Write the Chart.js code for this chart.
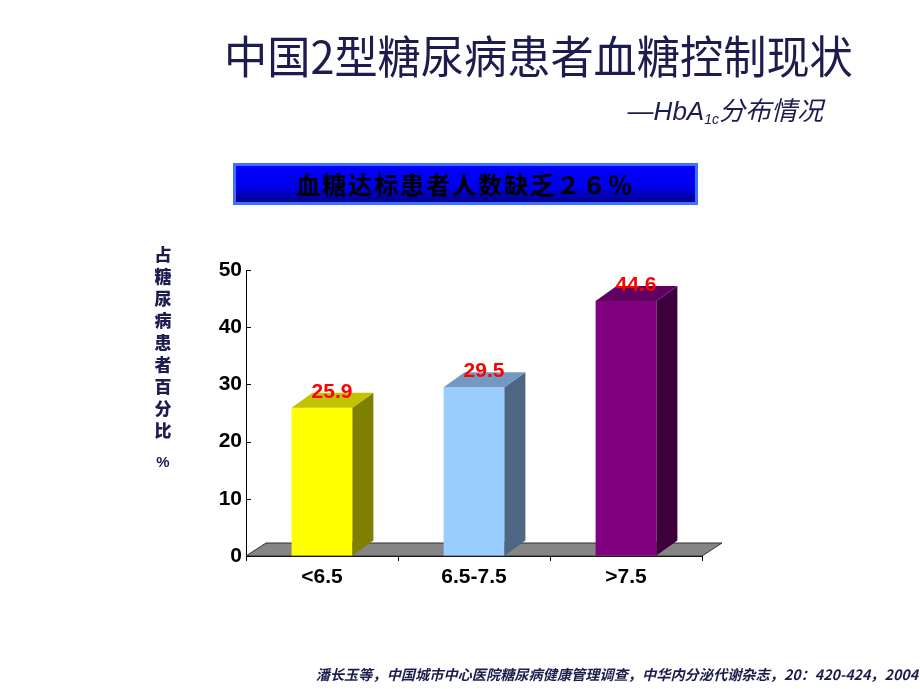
<!DOCTYPE html>
<html>
<head>
<meta charset="utf-8">
<script src="https://cdn.jsdelivr.net/npm/chart.js@4.4.0/dist/chart.umd.min.js"></script>
<style>
  body { margin:0; background:#fff; width:920px; height:689px; overflow:hidden; position:relative; }
  #c { position:absolute; left:0; top:0; }
  .t { position:absolute; white-space:nowrap; }
  #title { left:224px; top:22px; font:45px "Noto Sans CJK SC", sans-serif; color:#1c1c4e; transform:scaleX(0.96); transform-origin:left top; }
  #sub { right:97px; top:90px; font:italic 26px "Liberation Sans", "Noto Sans CJK SC", sans-serif; color:#1c1c4e; }
  #sub sub { font-size:14px; vertical-align:-4px; }
  #box { position:absolute; left:233px; top:163px; width:459px; height:36px; border:3px solid #3f6fff;
         background:linear-gradient(#0000ff, #0000ee 55%, #00008a); text-align:center;
         font:bold 24px "Noto Sans CJK SC", sans-serif; line-height:36px; color:#000; letter-spacing:2px; }
  #ytitle { left:151px; top:243px; width:24px; text-align:center; font:900 17px "Noto Sans CJK SC", sans-serif; line-height:22px; color:#1c1c4e; }
  #ytitle .pct { display:block; margin-top:12px; font:bold 15px "Liberation Sans", sans-serif; }
  #foot { right:2px; top:664px; font:italic bold 14.2px "Noto Sans CJK SC", sans-serif; color:#1c1c4e; }
</style>
</head>
<body>
<canvas id="c" width="920" height="689"></canvas>
<div class="t" id="title">中国2型糖尿病患者血糖控制现状</div>
<div class="t" id="sub">—HbA<sub>1c</sub>分布情况</div>
<div id="box">血糖达标患者人数缺乏２６％</div>
<div class="t" id="ytitle">占<br>糖<br>尿<br>病<br>患<br>者<br>百<br>分<br>比<span class="pct">%</span></div>
<div class="t" id="foot">潘长玉等，中国城市中心医院糖尿病健康管理调查，中华内分泌代谢杂志，20：420-424，2004</div>
<script>
const categories = ['<6.5', '6.5-7.5', '>7.5'];
const percents = [25.9, 29.5, 44.6];
const yTicks = [0, 10, 20, 30, 40, 50];

const frontColors = ['#ffff00', '#99ccff', '#800080'];
const sideColors = ['#808000', '#4d6683', '#3d003d'];
const topColors = ['#c2c200', '#7399c2', '#600060'];

// depth of the fake 3d
const DX = 21, DY = -15;

const floorPlugin = {
  id: 'floor',
  beforeDatasetsDraw(chart) {
    const ctx = chart.ctx, a = chart.chartArea;
    ctx.save();
    ctx.fillStyle = '#858585';
    ctx.strokeStyle = '#303030';
    ctx.lineWidth = 1;
    ctx.beginPath();
    ctx.moveTo(a.left, a.bottom);
    ctx.lineTo(a.left + DX - 1, a.bottom - 13);
    ctx.lineTo(a.right + DX - 1, a.bottom - 13);
    ctx.lineTo(a.right, a.bottom);
    ctx.closePath();
    ctx.fill();
    ctx.stroke();
    ctx.restore();
  },
  afterDatasetsDraw(chart) {
    const ctx = chart.ctx;
    const meta = chart.getDatasetMeta(0);
    ctx.save();
    meta.data.forEach((bar, i) => {
      const half = bar.width / 2;
      const l = bar.x - half, r = bar.x + half, t = bar.y, b = bar.base;
      // right side
      ctx.fillStyle = sideColors[i];
      ctx.beginPath();
      ctx.moveTo(r, t); ctx.lineTo(r + DX, t + DY); ctx.lineTo(r + DX, b + DY); ctx.lineTo(r, b);
      ctx.closePath(); ctx.fill();
      // top
      ctx.fillStyle = topColors[i];
      ctx.beginPath();
      ctx.moveTo(l, t); ctx.lineTo(l + DX, t + DY); ctx.lineTo(r + DX, t + DY); ctx.lineTo(r, t);
      ctx.closePath(); ctx.fill();
      // value label
      ctx.fillStyle = '#ff0000';
      ctx.font = 'bold 21px "Liberation Sans", Arial, sans-serif';
      ctx.textAlign = 'center';
      ctx.textBaseline = 'alphabetic';
      ctx.fillText(percents[i].toFixed(1), bar.x + 10, t - 10);
    });
    // inward y ticks
    const ys = chart.scales.y;
    ctx.strokeStyle = '#000';
    ctx.lineWidth = 1;
    yTicks.forEach(v => {
      const p = Math.round(ys.getPixelForValue(v)) + 0.5;
      ctx.beginPath();
      ctx.moveTo(ys.right, p); ctx.lineTo(ys.right + 5, p); ctx.stroke();
    });
    ctx.restore();
  }
};

new Chart(document.getElementById('c'), {
  type: 'bar',
  data: {
    labels: categories,
    datasets: [{
      data: percents,
      backgroundColor: frontColors,
      borderWidth: 0,
      barPercentage: 0.4,
      categoryPercentage: 1
    }]
  },
  options: {
    responsive: false,
    animation: false,
    layout: { padding: { left: 150, right: 218, top: 270, bottom: 90 } },
    plugins: { legend: { display: false }, tooltip: { enabled: false } },
    scales: {
      x: {
        grid: { drawOnChartArea: false, tickLength: 5, color: '#000' },
        border: { color: '#000', width: 1 },
        ticks: { color: '#000', padding: 4, font: { family: '"Liberation Sans", Arial', size: 21, weight: 'bold' } },
        afterFit(s) { s.height = 43; }
      },
      y: {
        min: 0, max: 50,
        afterBuildTicks(s) { s.ticks = yTicks.map(v => ({ value: v })); },
        grid: { drawOnChartArea: false, drawTicks: false },
        border: { color: '#000', width: 1 },
        ticks: { color: '#000', padding: 4, font: { family: '"Liberation Sans", Arial', size: 21, weight: 'bold' } },
        afterFit(s) { s.width = 96; }
      }
    }
  },
  plugins: [floorPlugin]
});
</script>
</body>
</html>
